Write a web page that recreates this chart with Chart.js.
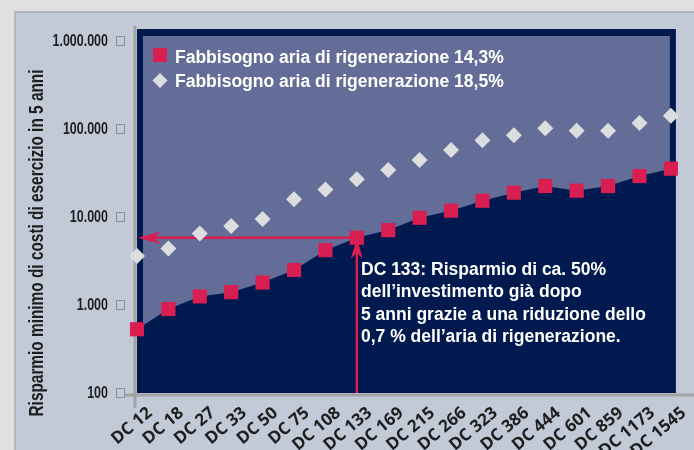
<!DOCTYPE html>
<html>
<head>
<meta charset="utf-8">
<script src="https://cdn.jsdelivr.net/npm/chart.js@4"></script>
<style>
  html, body { margin: 0; padding: 0; background: #dfe0e2; }
  canvas { display: block; }
</style>
</head>
<body>
<canvas id="savingsChart" width="694" height="450"></canvas>
<script>
// modelli di essiccatore
const categories = ['DC 12', 'DC 18', 'DC 27', 'DC 33', 'DC 50', 'DC 75', 'DC 108', 'DC 133', 'DC 169',
    'DC 215', 'DC 266', 'DC 323', 'DC 386', 'DC 444', 'DC 601', 'DC 859', 'DC 1173', 'DC 1545'];

// risparmio in 5 anni (scala log)
const savings143 = [530, 900, 1250, 1400, 1800, 2500, 4200, 5800, 7100,
    9800, 11800, 15300, 18900, 22500, 19900, 22500, 29200, 35400];
const savings185 = [3600, 4400, 6500, 7900, 9500, 15900, 20600, 26800, 34200,
    44400, 57700, 74400, 84800, 101800, 95700, 95700, 117000, 141600];

const seriesLabels = ['Fabbisogno aria di rigenerazione 14,3%', 'Fabbisogno aria di rigenerazione 18,5%'];

const yTickValues = [100, 1000, 10000, 100000, 1000000];
const yTickLabels = ['100', '1.000', '10.000', '100.000', '1.000.000'];

const yTitle = 'Risparmio minimo di costi di esercizio in 5 anni';
const noteModel = 'DC 133';
const noteLines = [
    'DC 133: Risparmio di ca. 50%',
    'dell\u2019investimento gi\u00e0 dopo',
    '5 anni grazie a una riduzione dello',
    '0,7 % dell\u2019aria di rigenerazione.'
];

const NAVY = '#00194f';
const INNER = '#636d98';
const RED = '#d91e52';
const DIAMOND = '#dcdddf';
const PANEL = '#c2cad8';
const AXIS_GRAY = '#a0a2a6';
const TEXT = '#1e1e1e';

// sfondo, cornice e assi grigi
const framePlugin = {
    id: 'frame',
    beforeDraw(chart) {
        const ctx = chart.ctx;
        const { left, top, right, bottom } = chart.chartArea;
        ctx.save();
        ctx.fillStyle = '#dfe0e2';
        ctx.fillRect(0, 0, chart.width, chart.height);
        ctx.fillStyle = PANEL;
        ctx.fillRect(15, 12, chart.width - 15, chart.height - 12);
        ctx.strokeStyle = '#a9acb0';
        ctx.lineWidth = 1.5;
        ctx.beginPath();
        ctx.moveTo(15, chart.height);
        ctx.lineTo(15, 12);
        ctx.lineTo(chart.width, 12);
        ctx.stroke();

        ctx.fillStyle = NAVY;
        ctx.fillRect(left, top - 12, right + 5 - left, bottom - top + 12);
        ctx.fillStyle = INNER;
        ctx.fillRect(left + 6, top - 5, right - 1 - left - 6, bottom - top + 5);

        ctx.strokeStyle = AXIS_GRAY;
        ctx.lineWidth = 3;
        ctx.beginPath();
        ctx.moveTo(left - 2, top - 15);
        ctx.lineTo(left - 2, bottom + 15);
        ctx.moveTo(left - 12, bottom + 2);
        ctx.lineTo(chart.width, bottom + 2);
        ctx.stroke();
        ctx.restore();
    },
    // frecce rosse verso DC 133 (dopo il riempimento, prima dei punti)
    beforeDatasetsDraw(chart) {
        const ctx = chart.ctx;
        const { left, bottom } = chart.chartArea;
        const i = categories.indexOf(noteModel);
        const x = chart.scales.x.getPixelForValue(i);
        const y = chart.scales.y.getPixelForValue(savings143[i]);
        ctx.save();
        ctx.strokeStyle = RED;
        ctx.fillStyle = RED;
        ctx.lineWidth = 2.5;
        ctx.beginPath();
        ctx.moveTo(left + 14, y);
        ctx.lineTo(x, y);
        ctx.moveTo(x, bottom);
        ctx.lineTo(x, y + 14);
        ctx.stroke();
        // punta orizzontale
        ctx.beginPath();
        ctx.moveTo(left + 1, y);
        ctx.lineTo(left + 24, y - 6.5);
        ctx.lineTo(left + 17, y);
        ctx.lineTo(left + 24, y + 6.5);
        ctx.closePath();
        ctx.fill();
        // punta verticale
        ctx.beginPath();
        ctx.moveTo(x, y);
        ctx.lineTo(x - 6, y + 21);
        ctx.lineTo(x, y + 15);
        ctx.lineTo(x + 6, y + 21);
        ctx.closePath();
        ctx.fill();
        ctx.restore();
    },
    afterDraw(chart) {
        const ctx = chart.ctx;
        const { left, top } = chart.chartArea;
        ctx.save();

        // etichette Y (testo stretto) e quadratini
        ctx.strokeStyle = '#8c9096';
        ctx.lineWidth = 1;
        ctx.font = 'bold 16px "Liberation Sans"';
        ctx.textAlign = 'right';
        ctx.textBaseline = 'middle';
        yTickValues.forEach((v, k) => {
            const py = Math.round(chart.scales.y.getPixelForValue(v));
            ctx.strokeRect(116.5, py - 4.5, 8, 9);
            ctx.save();
            ctx.translate(108, py + 1);
            ctx.scale(0.78, 1);
            ctx.fillStyle = TEXT;
            ctx.fillText(yTickLabels[k], 0, 0);
            ctx.restore();
        });

        // titolo asse Y
        ctx.save();
        ctx.translate(43, 243);
        ctx.rotate(-Math.PI / 2);
        ctx.font = 'bold 21px "Liberation Sans"';
        const w = ctx.measureText(yTitle).width;
        ctx.scale(347 / w, 1);
        ctx.fillStyle = TEXT;
        ctx.textAlign = 'center';
        ctx.textBaseline = 'alphabetic';
        ctx.fillText(yTitle, 0, 0);
        ctx.restore();

        // legenda
        const ds = chart.data.datasets;
        ctx.fillStyle = ds[0].pointBackgroundColor;
        ctx.fillRect(left + 16, top + 7, 14, 14);
        ctx.fillStyle = ds[1].pointBackgroundColor;
        ctx.beginPath();
        ctx.moveTo(left + 23, top + 32);
        ctx.lineTo(left + 30.5, top + 39.5);
        ctx.lineTo(left + 23, top + 47);
        ctx.lineTo(left + 15.5, top + 39.5);
        ctx.closePath();
        ctx.fill();
        ctx.fillStyle = '#ffffff';
        ctx.font = 'bold 17.5px "Liberation Sans"';
        ctx.textAlign = 'left';
        ctx.textBaseline = 'alphabetic';
        ctx.fillText(ds[0].label, left + 38, top + 21.7);
        ctx.fillText(ds[1].label, left + 38, top + 45.7);

        // nota
        ctx.font = 'bold 17.5px "Liberation Sans"';
        noteLines.forEach((line, k) => {
            ctx.fillText(line, 361, 275 + k * 22.3);
        });
        ctx.restore();
    }
};

const ctx = document.getElementById('savingsChart').getContext('2d');
new Chart(ctx, {
    type: 'line',
    data: {
        labels: categories,
        datasets: [
            {
                label: seriesLabels[0],
                data: savings143,
                fill: 'start',
                backgroundColor: NAVY,
                borderColor: 'rgba(0,0,0,0)',
                borderWidth: 0,
                tension: 0,
                pointStyle: 'rect',
                pointRadius: 10,
                pointBackgroundColor: RED,
                pointBorderWidth: 0,
                clip: false
            },
            {
                label: seriesLabels[1],
                data: savings185,
                showLine: false,
                fill: false,
                pointStyle: 'rectRot',
                pointRadius: 8,
                pointBackgroundColor: DIAMOND,
                pointBorderWidth: 0,
                clip: false
            }
        ]
    },
    options: {
        responsive: false,
        animation: false,
        events: [],
        layout: { padding: { top: 41, right: 13, left: 0, bottom: 0 } },
        plugins: {
            legend: { display: false },
            tooltip: { enabled: false },
            filler: { drawTime: 'beforeDatasetsDraw' }
        },
        scales: {
            x: {
                grid: { display: false, drawTicks: false },
                border: { display: false },
                ticks: {
                    autoSkip: false,
                    minRotation: 40,
                    maxRotation: 40,
                    labelOffset: 13,
                    padding: 10,
                    color: TEXT,
                    font: { family: 'Open Sans', weight: 'bold', size: 17 }
                },
                afterFit: (s) => { s.height = 57; }
            },
            y: {
                type: 'logarithmic',
                min: 100,
                max: 1000000,
                grid: { display: false, drawTicks: false },
                border: { display: false },
                afterBuildTicks: (s) => { s.ticks = yTickValues.map(v => ({ value: v })); },
                ticks: { display: false },
                afterFit: (s) => { s.width = 137; }
            }
        }
    },
    plugins: [framePlugin]
});
</script>
</body>
</html>
